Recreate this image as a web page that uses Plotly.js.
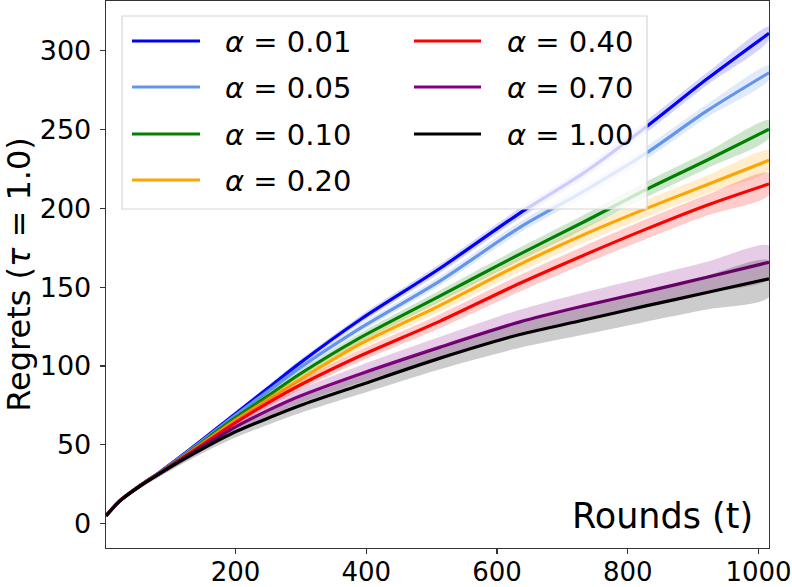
<!DOCTYPE html>
<html>
<head>
<meta charset="utf-8">
<script src="https://cdn.plot.ly/plotly-3.0.1.min.js"></script>
<style>html,body{margin:0;padding:0;background:#fff;}#chart{width:792px;height:587px;}</style>
</head>
<body>
<div id="chart"></div>
<script>
// ---- data ----
const rounds = [2, 23, 54, 85, 130, 196, 253, 299, 391, 513, 635, 731, 826, 921, 1016];

const labels = ["α = 0.01", "α = 0.05", "α = 0.10", "α = 0.20", "α = 0.40", "α = 0.70", "α = 1.00"];
const alphaValues = ["0.01", "0.05", "0.10", "0.20", "0.40", "0.70", "1.00"];

const meanA001 = [5, 14.5, 24.3, 33, 47, 68.5, 87, 102, 129.5, 162, 197, 222, 251, 282, 311];
const meanA005 = [5, 14.5, 24.3, 32.8, 46.5, 67.5, 85, 99, 124, 154, 188, 210.5, 234.4, 261.8, 286];
const meanA010 = [5, 14.5, 24.2, 32.6, 45.8, 66, 82, 95, 118, 144.5, 171, 191, 211.5, 230.5, 250.2];
const meanA020 = [5, 14.5, 24.1, 32.5, 45.2, 64.5, 79.5, 91.5, 114, 138.5, 164.5, 183, 199.5, 215, 230.5];
const meanA040 = [5, 14.5, 24, 32.3, 44.6, 63, 77.5, 88, 106.5, 128.5, 152.5, 170, 186.5, 202, 215.5];
const meanA070 = [5, 14.4, 23.9, 32.1, 43.8, 60.5, 72.5, 81, 95, 112, 128, 138, 147, 156.3, 165.8];
const meanA100 = [5, 14.3, 23.8, 32, 43, 57.5, 67.5, 75, 88, 105, 120, 129, 138, 146.6, 155.3];

const stdA001 = [0.3, 0.6, 0.8, 1, 1.2, 1.5, 1.8, 2, 2.4, 2.8, 3.2, 3.5, 3.8, 4, 4.3];
const stdA005 = [0.3, 0.6, 0.8, 1, 1.2, 1.5, 1.8, 2, 2.4, 2.9, 3.4, 3.7, 4, 4.2, 4.5];
const stdA010 = [0.3, 0.7, 0.9, 1.1, 1.4, 1.8, 2.2, 2.5, 3, 3.6, 4.1, 4.5, 4.9, 5.2, 5.6];
const stdA020 = [0.3, 0.7, 0.9, 1.2, 1.5, 2, 2.4, 2.8, 3.3, 3.9, 4.6, 5, 5.4, 5.8, 6.2];
const stdA040 = [0.3, 0.8, 1, 1.3, 1.7, 2.2, 2.7, 3, 3.7, 4.4, 5.2, 5.7, 6.2, 6.6, 7];
const stdA070 = [0.4, 1, 1.4, 1.8, 2.4, 3.2, 3.9, 4.4, 5.4, 6.5, 7.7, 8.5, 9.2, 9.8, 10.5];
const stdA100 = [0.4, 1, 1.5, 1.9, 2.6, 3.5, 4.2, 4.8, 5.8, 7, 8.4, 9.2, 10, 10.8, 11.5];

const xTicks = [200, 400, 600, 800, 1000];
const yTicks = [0, 50, 100, 150, 200, 250, 300];

// ---- styles ----
const means = [meanA001, meanA005, meanA010, meanA020, meanA040, meanA070, meanA100];
const stds = [stdA001, stdA005, stdA010, stdA020, stdA040, stdA070, stdA100];
const colors = ["#0000ff", "#6495ed", "#008000", "#ffa500", "#ff0000", "#800080", "#000000"];
const bands = ["rgba(0,0,255,0.17)", "rgba(100,149,237,0.2)", "rgba(0,128,0,0.2)", "rgba(255,165,0,0.2)",
               "rgba(255,0,0,0.2)", "rgba(128,0,128,0.2)", "rgba(0,0,0,0.2)"];

const traces = [];
means.forEach((m, i) => {
  const up = m.map((v, k) => v + stds[i][k]);
  const lo = m.map((v, k) => v - stds[i][k]);
  traces.push({
    x: rounds.concat(rounds.slice().reverse()),
    y: up.concat(lo.slice().reverse()),
    type: "scatter", mode: "lines", fill: "toself",
    fillcolor: bands[i], line: {width: 0, shape: "spline", smoothing: 0.8}, hoverinfo: "skip", showlegend: false
  });
  traces.push({
    x: rounds, y: m, type: "scatter", mode: "lines", name: labels[i],
    line: {color: colors[i], width: 3.2, shape: "spline", smoothing: 0.8}, showlegend: false
  });
});

// ---- plot geometry in pixels ----
const W = 792, H = 587;
const L = 106, R = 769, T = 1, B = 548;
const px = x => (x - L) / (R - L);
const py = y => (B - y) / (B - T);

const shapes = [{
  type: "rect", xref: "paper", yref: "paper",
  x0: px(122), x1: px(647), y0: py(209), y1: py(16),
  fillcolor: "rgba(255,255,255,0.8)", line: {color: "#d6d6d6", width: 1.2}, layer: "above"
}];
const annotations = [];
const rowY = [41, 87, 134, 180];
const colX = [[132, 200, 223], [414, 481, 505]];
labels.forEach((lab, i) => {
  const col = i < 4 ? 0 : 1;
  const row = i < 4 ? i : i - 4;
  shapes.push({
    type: "line", xref: "paper", yref: "paper",
    x0: px(colX[col][0]), x1: px(colX[col][1]), y0: py(rowY[row]), y1: py(rowY[row]),
    line: {color: colors[i], width: 3.2}, layer: "above"
  });
  annotations.push({
    xref: "paper", yref: "paper", x: px(colX[col][2]), y: py(rowY[row] + 1),
    xanchor: "left", yanchor: "middle", showarrow: false,
    text: "<i>α</i> = " + alphaValues[i],
    font: {family: "DejaVu Sans", size: 29, color: "#000"}
  });
});
annotations.push({
  xref: "paper", yref: "paper", x: px(755), y: py(538),
  xanchor: "right", yanchor: "bottom", showarrow: false,
  text: "Rounds (t)", font: {family: "DejaVu Sans", size: 35, color: "#000"}
});

const axisCommon = {
  showline: true, mirror: true, linecolor: "#333", linewidth: 1.3,
  ticks: "outside", ticklen: 5, tickwidth: 1.2, tickcolor: "#333",
  showgrid: false, zeroline: false, ticklabeloverflow: "allow",
  tickfont: {family: "DejaVu Sans", size: 27, color: "#000"}
};

const layout = {
  width: W, height: H,
  margin: {l: L, r: W - R, t: T, b: H - B, pad: 0},
  paper_bgcolor: "#fff", plot_bgcolor: "#fff",
  showlegend: false,
  xaxis: Object.assign({}, axisCommon, {
    range: [2, 1016], tickvals: xTicks, ticktext: xTicks.map(String), ticklabelstandoff: -5,
    tickfont: {family: "DejaVu Sans", size: 26, color: "#000"}
  }),
  yaxis: Object.assign({}, axisCommon, {
    range: [-15.4, 331.5], tickvals: yTicks, ticktext: yTicks.map(String), ticklabelstandoff: 3,
    title: {text: "Regrets (<i>τ</i> = 1.0)", font: {family: "DejaVu Sans", size: 32, color: "#000"}, standoff: 9}
  }),
  shapes: shapes,
  annotations: annotations
};

Plotly.newPlot("chart", traces, layout, {staticPlot: true, displayModeBar: false});
</script>
</body>
</html>
